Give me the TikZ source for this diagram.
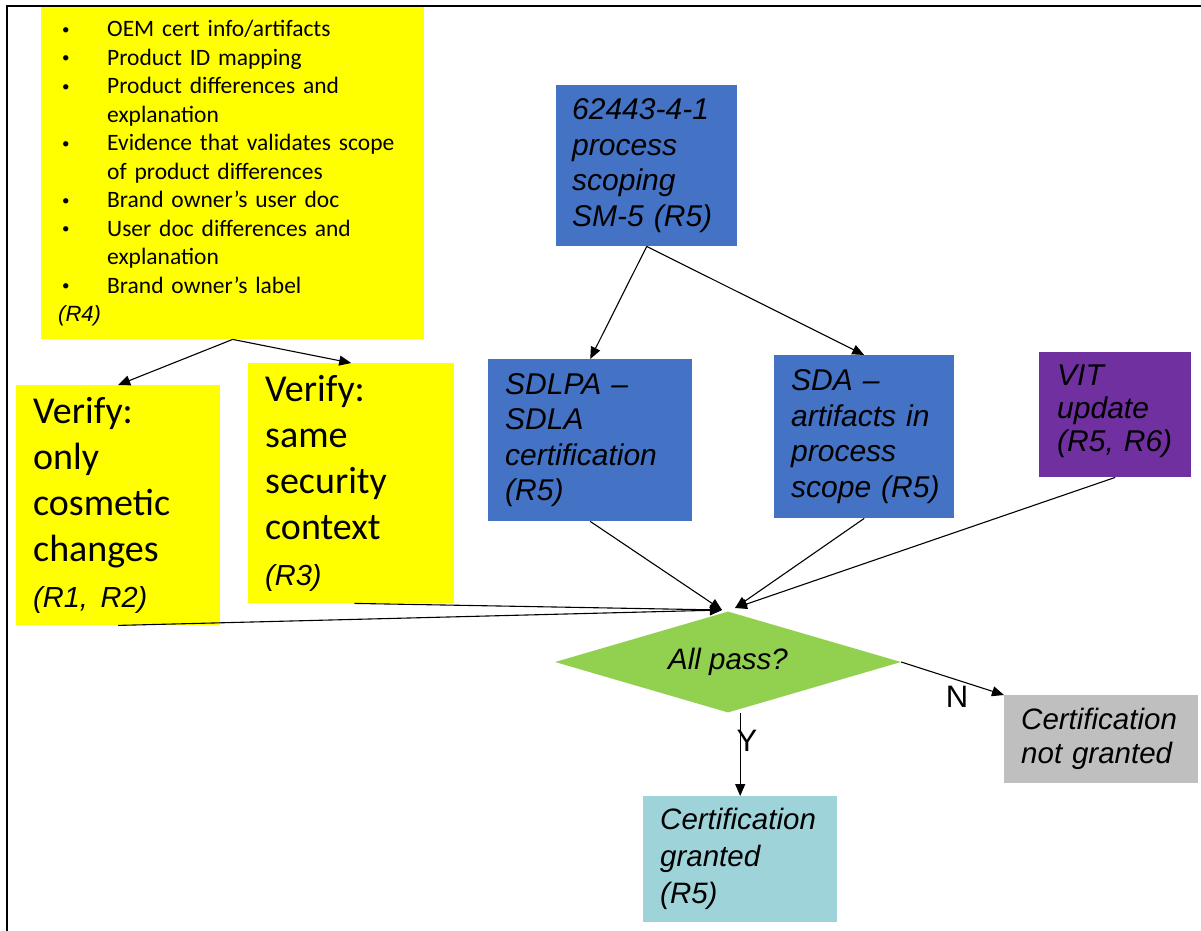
\documentclass[tikz,border=0pt]{standalone}
\usepackage{fontspec}
\setmainfont{Carlito}
\newfontfamily\arialf{Liberation Sans}
\usetikzlibrary{arrows.meta,shapes.geometric}
\definecolor{cyel}{HTML}{FFFF00}
\definecolor{cblue}{HTML}{4472C4}
\definecolor{cpurp}{HTML}{7030A0}
\definecolor{cgreen}{HTML}{92D050}
\definecolor{cgray}{HTML}{BFBFBF}
\definecolor{ccyan}{HTML}{9FD3DA}
\newcommand{\bul}{\makebox[49pt][l]{\hspace{4pt}\raisebox{2.5pt}{\fontsize{15}{15}\selectfont\textbullet}}}
\newcommand{\ind}{\hspace*{49pt}}
\tikzset{
  box/.style={rectangle, anchor=north west, draw=none, align=left, inner ysep=0pt},
  calbox/.style={box, fill=cyel, font=\fontsize{38}{46}\selectfont},
  arbox/.style={box, font=\arialf\itshape\fontsize{30}{35.5}\selectfont},
  conn/.style={draw=black, line width=1.1pt, -{Triangle[length=12pt,width=10pt]}},
  lbl/.style={font=\arialf\fontsize{31}{31}\selectfont, inner sep=0pt}
}
\begin{document}
\begin{tikzpicture}[x=1pt,y=-1pt]
\useasboundingbox (0,0) rectangle (1201,930);
% frame
\draw[line width=2pt] (7,931) -- (7,6) -- (1202,6);

\node[box, fill=cyel, minimum width=383pt, minimum height=332pt, inner xsep=17pt, text width=349pt,
      font=\fontsize{23.5}{28.5}\selectfont] (req) at (41,7) {%
\bul OEM~cert~info/artifacts\\
\bul Product~ID~mapping\\
\bul Product~differences~and\\
\ind explanation\\
\bul Evidence~that~validates~scope\\
\ind of~product~differences\\
\bul Brand~owner’s~user~doc\\
\bul User~doc~differences~and\\
\ind explanation\\
\bul Brand~owner’s~label\\
{\arialf\itshape\fontsize{22}{28.5}\selectfont (R4)}};

\node[calbox, minimum width=204pt, minimum height=240pt, inner xsep=17pt, text width=170pt] (v1) at (16,385) {%
Verify:\\ only\\ cosmetic\\ changes\\ {\arialf\itshape\fontsize{29}{46}\selectfont (R1,~R2)}};

\node[calbox, minimum width=206pt, minimum height=240pt, inner xsep=17pt, text width=172pt] (v2) at (248,363) {%
Verify:\\ same\\ security\\ context\\ {\arialf\itshape\fontsize{29}{46}\selectfont (R3)}};

\node[arbox, fill=cblue, minimum width=181pt, minimum height=161pt, inner xsep=16pt, text width=149pt] (proc) at (556,85) {%
62443-4-1\\ process\\ scoping\\ SM-5~(R5)};

\node[arbox, fill=cblue, minimum width=204pt, minimum height=162pt, inner xsep=17pt, text width=170pt] (sdlpa) at (488,359) {%
SDLPA~–\\ SDLA\\ certification\\ (R5)};

\node[arbox, fill=cblue, minimum width=180pt, minimum height=163pt, inner xsep=17pt, text width=146pt] (sda) at (774,355) {%
SDA~–\\ artifacts~in\\ process\\ scope~(R5)};

\node[box, fill=cpurp, font=\arialf\itshape\fontsize{30}{33}\selectfont, minimum width=152pt, minimum height=125pt, inner xsep=18pt, text width=116pt] (vit) at (1039,352) {%
VIT\\ update\\ (R5,~R6)\\[-19pt]\mbox{}};

\node[diamond, fill=cgreen, minimum width=346pt, minimum height=101pt, aspect=3.4, inner sep=0pt,
      font=\arialf\itshape\fontsize{29.5}{30}\selectfont] (dia) at (728,662) {All pass?};

\node[box, fill=cgray, font=\arialf\itshape\fontsize{29.5}{34}\selectfont, minimum width=194pt, minimum height=88pt, inner xsep=17pt, text width=160pt] (ng) at (1004,695) {%
Certification\\ not~granted};

\node[box, fill=ccyan, font=\arialf\itshape\fontsize{29.5}{37}\selectfont, minimum width=194pt, minimum height=126pt, inner xsep=17pt, text width=160pt] (gr) at (643,796) {%
Certification\\ granted\\ (R5)};

\coordinate (tipL) at (722,610);
\coordinate (tipR) at (735,608);

\draw[conn] (req.south) -- (v1.north);
\draw[conn] (req.south) -- (v2.north);
\draw[conn] (proc.south) -- (sdlpa.north);
\draw[conn] (proc.south) -- (sda.north);
\draw[conn] (v1.south) -- (tipL);
\draw[conn] (v2.south east) ++(-100,0) coordinate (v2s) -- (tipL);
\draw[conn] (sdlpa.south) -- (tipL);
\draw[conn] (sda.south) -- (tipR);
\draw[conn] (vit.south) -- (tipR);
\draw[conn] (gr.north |- dia.south) -- (gr.north);
\draw[conn] (dia.east) -- (ng.north west);

\node[lbl] (ylab) at (747,741) {Y};
\node[lbl] (nlab) at (957,697) {N};
\end{tikzpicture}
\end{document}
